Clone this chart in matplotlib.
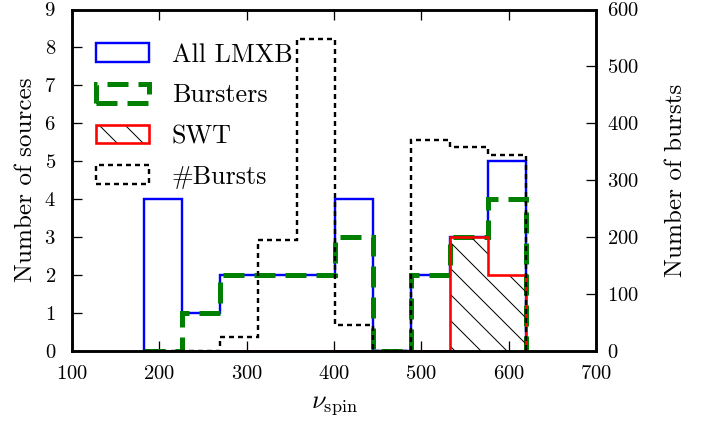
import matplotlib
matplotlib.use("Agg")
import matplotlib.pyplot as plt
from matplotlib.patches import Patch
from matplotlib.legend_handler import HandlerTuple

# ---- data ----
bin_edges = [182.0, 225.8, 269.6, 313.4, 357.2, 401.0, 444.8, 488.6, 532.4, 576.2, 620.0]
all_lmxb = [4, 1, 2, 2, 2, 4, 0, 2, 3, 5]
bursters = [0, 1, 2, 2, 2, 3, 0, 2, 3, 4]
swt = [0, 0, 0, 0, 0, 0, 0, 0, 3, 2]
n_bursts = [0, 0, 24, 194, 548, 44, 0, 371, 358, 344]
labels = ["All LMXB", "Bursters", "SWT", "#Bursts"]
x_ticks = [100, 200, 300, 400, 500, 600, 700]
y_left_ticks = [0, 1, 2, 3, 4, 5, 6, 7, 8, 9]
y_right_ticks = [0, 100, 200, 300, 400, 500, 600]

DPI = 156
P = 72.0 / DPI  # points per pixel

plt.rcParams["font.family"] = "serif"
plt.rcParams["font.serif"] = ["cmr10"]
plt.rcParams["mathtext.fontset"] = "cm"
plt.rcParams["axes.formatter.use_mathtext"] = True
plt.rcParams["lines.scale_dashes"] = False
plt.rcParams["hatch.linewidth"] = 1.0 * P
plt.rcParams["hatch.color"] = "black"

fig = plt.figure(figsize=(712 / DPI, 422 / DPI), dpi=DPI)
ax = fig.add_axes([72 / 712, 1 - 350.5 / 422, 524 / 712, 341 / 422])
ax2 = ax.twinx()

blue_lw = 2.4 * P
green_lw = 5.0 * P
red_lw = 2.6 * P
black_lw = 2.4 * P
green_ls = (0, (21 * P, 10 * P))
black_ls = (0, (5 * P, 4 * P))

ax.stairs(all_lmxb, bin_edges, baseline=0, color="#0000ff", lw=blue_lw, zorder=2)
ax.stairs(bursters, bin_edges, baseline=0, color="#008000", lw=green_lw,
          linestyle=green_ls, zorder=3)
ax.stairs(swt, bin_edges, baseline=0, fill=True, facecolor="none",
          edgecolor="black", hatch="\\\\", lw=0, zorder=3.5)
ax.stairs(swt, bin_edges, baseline=0, color="#ff0000", lw=red_lw, zorder=4)
ax2.stairs(n_bursts, bin_edges, baseline=0, color="black", lw=black_lw,
           linestyle=black_ls, zorder=5)

ax.set_xlim(100, 700)
ax.set_ylim(0, 9)
ax2.set_ylim(0, 600)
ax.set_xticks(x_ticks)
ax.set_yticks(y_left_ticks)
ax2.set_yticks(y_right_ticks)

for a in (ax, ax2):
    for s in a.spines.values():
        s.set_linewidth(2.5 * P)
        s.set_zorder(10)

ax.tick_params(axis="both", direction="in", length=10 * P, width=1.3 * P,
               labelsize=9.5)
ax.tick_params(axis="x", top=True, bottom=True, pad=6.8)
ax.tick_params(axis="y", left=True, right=False, pad=7.4)
ax2.tick_params(axis="y", direction="in", length=10 * P, width=1.3 * P,
                labelsize=9.5, pad=5.0)

ax.set_xlabel(r"$\nu_{\rm spin}$", fontsize=12, labelpad=4.5)
ax.set_ylabel("Number of sources", fontsize=11.6, labelpad=3)
ax2.set_ylabel("Number of bursts", fontsize=11.6, labelpad=12)

handles = [
    Patch(facecolor="none", edgecolor="#0000ff", lw=blue_lw),
    Patch(facecolor="none", edgecolor="#008000", lw=green_lw, linestyle=green_ls),
    (Patch(facecolor="none", edgecolor="black", lw=0, hatch="\\\\"),
     Patch(facecolor="none", edgecolor="#ff0000", lw=red_lw)),
    Patch(facecolor="none", edgecolor="black", lw=black_lw, linestyle=black_ls),
]
ax2.legend(handles, labels, loc="upper left",
           bbox_to_anchor=(23.7 / 524, (350.5 - 43) / 341),
           frameon=False, fontsize=12, handlelength=2.06, handleheight=0.73,
           handletextpad=0.86, labelspacing=0.65, borderpad=0, borderaxespad=0,
           handler_map={tuple: HandlerTuple(ndivide=1)})

fig.savefig("out.png", dpi=DPI)
